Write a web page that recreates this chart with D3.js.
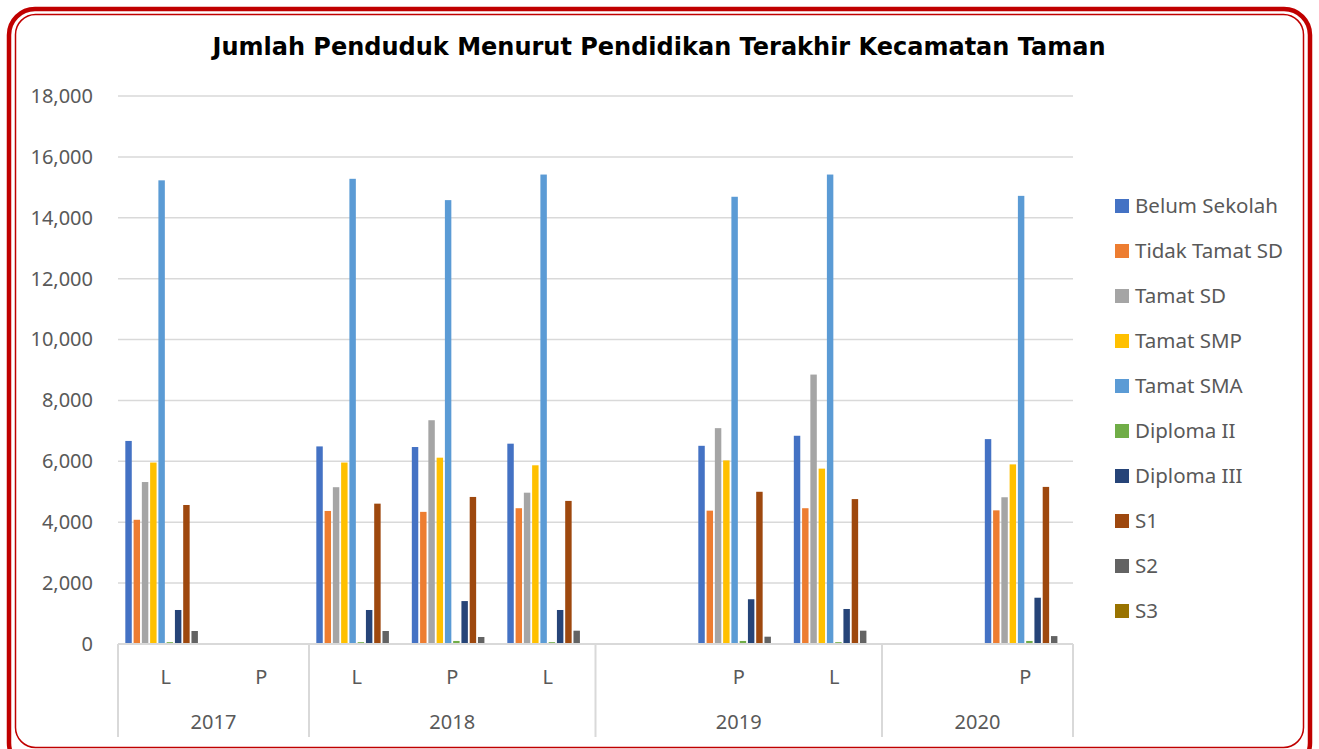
<!DOCTYPE html>
<html>
<head>
<meta charset="utf-8">
<script src="https://cdn.jsdelivr.net/npm/d3@7"></script>
<style>
  body { margin: 0; background: #fff; }
  .axisText { font-family: "Noto Sans", sans-serif; font-size: 20px; fill: #595959; }
  .legendText { font-family: "Noto Sans", sans-serif; font-size: 20.5px; fill: #595959; }
  .title { font-family: "DejaVu Sans", sans-serif; font-weight: bold; font-size: 24px; fill: #000; }
</style>
</head>
<body>
<svg id="chart" width="1319" height="749"></svg>
<script>
// categories on the x axis (two levels: sex / year)
var slotKeys   = ["c0", "c1", "c2", "c3", "c4", "c5", "c6", "c7", "c8", "c9"];
var slotLabels = ["L", "P", "L", "P", "L", "", "P", "L", "", "P"];
var years      = ["2017", "2018", "2019", "2020"];
var yearSlots  = [2, 3, 3, 2];

var seriesNames = ["Belum Sekolah", "Tidak Tamat SD", "Tamat SD", "Tamat SMP", "Tamat SMA",
                   "Diploma II", "Diploma III", "S1", "S2", "S3"];
var seriesColors = ["#4472C4", "#ED7D31", "#A5A5A5", "#FFC000", "#5B9BD5",
                    "#70AD47", "#264478", "#9E480E", "#636363", "#997300"];

// values per series, one per x slot (null = no data)
var belumSekolah = [6670, null, 6490, 6470, 6580, null, 6510, 6840, null, 6730];
var tidakTamatSD = [4080, null, 4370, 4340, 4460, null, 4380, 4460, null, 4390];
var tamatSD      = [5320, null, 5150, 7350, 4970, null, 7090, 8850, null, 4820];
var tamatSMP     = [5960, null, 5960, 6120, 5870, null, 6030, 5760, null, 5900];
var tamatSMA     = [15230, null, 15280, 14580, 15420, null, 14690, 15420, null, 14720];
var diplomaII    = [60, null, 60, 100, 60, null, 100, 60, null, 100];
var diplomaIII   = [1117, null, 1117, 1410, 1117, null, 1470, 1150, null, 1520];
var s1           = [4566, null, 4610, 4830, 4700, null, 5000, 4760, null, 5160];
var s2           = [427, null, 427, 230, 437, null, 240, 437, null, 260];
var s3           = [0, null, 0, 0, 0, null, 0, 0, null, 0];

var yTicks = [0, 2000, 4000, 6000, 8000, 10000, 12000, 14000, 16000, 18000];

var allSeries = [belumSekolah, tidakTamatSD, tamatSD, tamatSMP, tamatSMA,
                 diplomaII, diplomaIII, s1, s2, s3];

var svg = d3.select("#chart");
var plot = {left: 118, right: 1073, top: 96, bottom: 644};

// red double frame
svg.append("rect")
    .attr("x", 9).attr("y", 9).attr("width", 1301).attr("height", 760)
    .attr("rx", 26).attr("ry", 26)
    .attr("fill", "none").attr("stroke", "#C00000").attr("stroke-width", 4.5);
svg.append("rect")
    .attr("x", 15.5).attr("y", 14.5).attr("width", 1288).attr("height", 733)
    .attr("rx", 20).attr("ry", 20)
    .attr("fill", "none").attr("stroke", "#C00000").attr("stroke-width", 1.5);

svg.append("text")
    .attr("class", "title")
    .attr("x", 659).attr("y", 55)
    .attr("text-anchor", "middle")
    .text("Jumlah Penduduk Menurut Pendidikan Terakhir Kecamatan Taman");

var yScale = d3.scaleLinear()
    .domain([0, 18000])
    .range([plot.bottom, plot.top]);

var x0 = d3.scaleBand()
    .domain(slotKeys)
    .range([plot.left, plot.right])
    .padding(0);

var groupPad = x0.bandwidth() * 0.068;
var x1 = d3.scaleBand()
    .domain(seriesNames)
    .range([groupPad, x0.bandwidth() - groupPad])
    .paddingInner(0.22)
    .paddingOuter(0.1);

// gridlines
svg.append("g")
    .selectAll("line")
    .data(yTicks.filter(function(d){ return d > 0; }))
    .enter().append("line")
    .attr("x1", plot.left).attr("x2", plot.right)
    .attr("y1", function(d){ return yScale(d); })
    .attr("y2", function(d){ return yScale(d); })
    .attr("stroke", "#D9D9D9").attr("stroke-width", 1.5);

// y axis labels
var yAxis = d3.axisLeft(yScale)
    .tickValues(yTicks)
    .tickFormat(d3.format(","))
    .tickSize(0)
    .tickPadding(25);

var yG = svg.append("g")
    .attr("transform", "translate(" + plot.left + ",0)")
    .call(yAxis);
yG.select(".domain").remove();
yG.selectAll("text").attr("class", "axisText").attr("font-size", null).attr("font-family", null);

// bars
var slotGroups = svg.append("g").selectAll(".slot")
    .data(slotKeys)
    .enter().append("g")
    .attr("class", "slot")
    .attr("transform", function(d){ return "translate(" + x0(d) + ",0)"; });

slotGroups.selectAll("rect")
    .data(function(d, i) {
        return seriesNames.map(function(name, j) {
            return {name: name, color: seriesColors[j], value: allSeries[j][i]};
        }).filter(function(e){ return e.value != null && e.value > 0; });
    })
    .enter().append("rect")
    .attr("x", function(d){ return x1(d.name); })
    .attr("width", x1.bandwidth())
    .attr("y", function(d){ return yScale(d.value); })
    .attr("height", function(d){ return yScale(0) - yScale(d.value); })
    .attr("fill", function(d){ return d.color; });

// x axis: baseline, sex labels, year labels and dividers
svg.append("line")
    .attr("x1", plot.left).attr("x2", plot.right)
    .attr("y1", plot.bottom).attr("y2", plot.bottom)
    .attr("stroke", "#D9D9D9").attr("stroke-width", 2);

svg.append("g").selectAll("text")
    .data(slotKeys)
    .enter().append("text")
    .attr("class", "axisText")
    .attr("x", function(d){ return x0(d) + x0.bandwidth() / 2; })
    .attr("y", 684)
    .attr("text-anchor", "middle")
    .text(function(d, i){ return slotLabels[i]; });

var yearStart = [];
var acc = 0;
yearSlots.forEach(function(n) { yearStart.push(acc); acc += n; });

var dividers = yearStart.map(function(s){ return x0(slotKeys[s]); });
dividers.push(plot.right);

svg.append("g").selectAll("line")
    .data(dividers)
    .enter().append("line")
    .attr("x1", function(d){ return d; }).attr("x2", function(d){ return d; })
    .attr("y1", plot.bottom).attr("y2", 737)
    .attr("stroke", "#D9D9D9").attr("stroke-width", 2);

svg.append("g").selectAll("text")
    .data(years)
    .enter().append("text")
    .attr("class", "axisText")
    .attr("x", function(d, i){
        var a = x0(slotKeys[yearStart[i]]);
        return a + yearSlots[i] * x0.bandwidth() / 2;
    })
    .attr("y", 729)
    .attr("text-anchor", "middle")
    .text(function(d){ return d; });

// legend
var legend = svg.append("g").selectAll(".legendItem")
    .data(seriesNames)
    .enter().append("g")
    .attr("class", "legendItem")
    .attr("transform", function(d, i){ return "translate(1115," + (206 + i * 45) + ")"; });

legend.append("rect")
    .attr("x", 0).attr("y", -7)
    .attr("width", 14).attr("height", 14)
    .attr("fill", function(d, i){ return seriesColors[i]; });

legend.append("text")
    .attr("class", "legendText")
    .attr("x", 20).attr("y", 7)
    .text(function(d){ return d; });
</script>
</body>
</html>
